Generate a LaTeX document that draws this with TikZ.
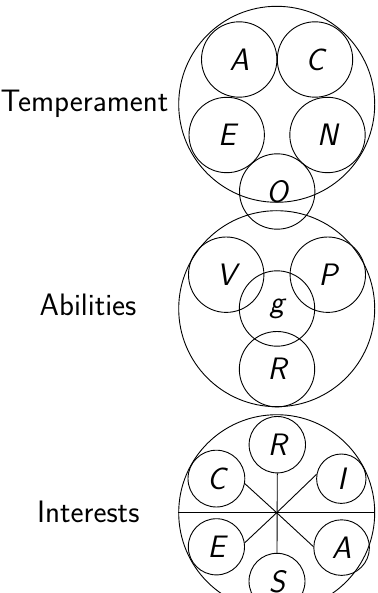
\documentclass[tikz,border=0pt]{standalone}
\usepackage{fontspec}
\begin{document}
\begin{tikzpicture}[x=1pt,y=-1pt,line width=0.9pt,
  every node/.style={font=\sffamily\fontsize{31}{36}\selectfont},
  big/.style={circle,draw,inner sep=0pt,minimum size=196pt},
  sm/.style={circle,draw,inner sep=0pt,minimum size=#1,font=\sffamily\slshape\fontsize{31}{36}\selectfont},
  sm/.default=75.4pt,
  lab/.style={anchor=base,inner sep=0pt}]
\clip (0,0) rectangle (377,593);
\useasboundingbox (0,0) rectangle (377,593);
% Temperament
\node[big] (tBig) at (276.7,104.3) {};
\node[sm] (tA) at (239.2,59.5) {A};
\node[sm] (tC) at (315,59.5) {C};
\node[sm] (tE) at (226.7,135) {E};
\node[sm] (tN) at (327.5,135) {N};
\node[sm] (tO) at (277.2,191.5) {O};
\node[lab] (tLab) at (84.5,111.7) {Temperament};
% Abilities
\node[big] (aBig) at (276.7,308.7) {};
\node[sm] (aV) at (226.2,274.7) {V};
\node[sm] (aP) at (327.8,274.7) {P};
\node[sm] (ag) at (277,308.5) {g};
\node[sm] (aR) at (277,369.2) {R};
\node[lab] (aLab) at (88,315) {Abilities};
% Interests
\node[big] (iBig) at (276.7,512.7) {};
\node[sm=56.4pt] (iR) at (277.3,444.7) {R};
\node[sm=56.8pt] (iC) at (216.4,478.6) {C};
\node[sm=49.4pt] (iI) at (341.3,478.7) {I};
\node[sm=56.2pt] (iE) at (216.4,546.8) {E};
\node[sm=55.6pt] (iA) at (341.6,547.6) {A};
\node[sm=56pt] (iS) at (277,581.3) {S};
\node[lab] (iLab) at (88.3,522.7) {Interests};
\coordinate (ic) at (276.7,512.7);
\draw (iBig.west) -- (iBig.east);
\draw (iR.south) -- (iS.north);
\draw (ic) -- (iC.-10);
\draw (ic) -- (iI.170);
\draw (ic) -- (iE.8);
\draw (ic) -- (iA.178);
\end{tikzpicture}
\end{document}
